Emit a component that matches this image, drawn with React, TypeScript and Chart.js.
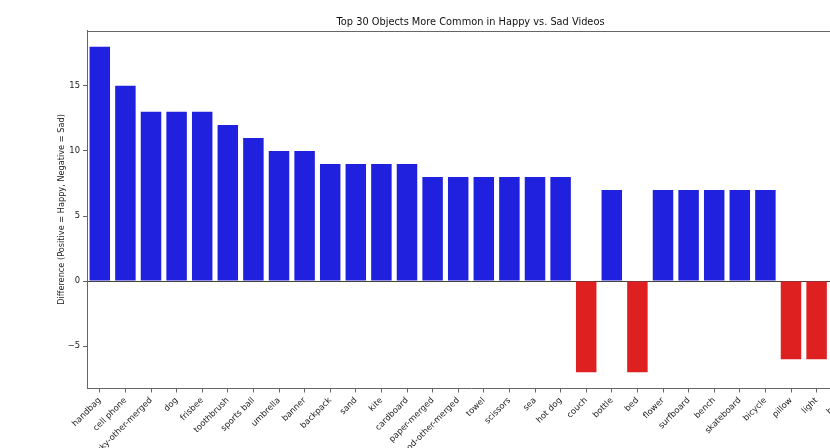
import React, { useEffect, useRef } from "react";
import { Chart, registerables } from "chart.js";

Chart.register(...registerables);

const categories = [
  "handbag", "cell phone", "sky-other-merged", "dog", "frisbee", "toothbrush",
  "sports ball", "umbrella", "banner", "backpack", "sand", "kite", "cardboard",
  "paper-merged", "food-other-merged", "towel", "scissors", "sea", "hot dog",
  "couch", "bottle", "bed", "flower", "surfboard", "bench", "skateboard",
  "bicycle", "pillow", "light", "bowl",
];
const differences = [
  18, 15, 13, 13, 13, 12, 11, 10, 10, 9, 9, 9, 9, 8, 8, 8, 8, 8, 8,
  -7, 7, -7, 7, 7, 7, 7, 7, -6, -6, -6,
];
const yTicks = [-5, 0, 5, 10, 15];
const titleText = "Top 30 Objects More Common in Happy vs. Sad Videos";

const BLUE = "#2020df";
const RED = "#df2020";
const AXIS = "#666";
const FONT = "'DejaVu Sans', sans-serif";

const framePlugin = {
  id: "frame",
  afterDraw(chart: any) {
    const { ctx, chartArea } = chart;
    ctx.save();
    ctx.strokeStyle = AXIS;
    ctx.lineWidth = 1;
    ctx.beginPath();
    ctx.moveTo(chartArea.left, Math.round(chartArea.top) + 0.5);
    ctx.lineTo(chartArea.right, Math.round(chartArea.top) + 0.5);
    ctx.stroke();
    ctx.fillStyle = "#111";
    ctx.font = `9.8px ${FONT}`;
    ctx.textAlign = "center";
    ctx.textBaseline = "middle";
    ctx.fillText(titleText, 470.5, 22);
    ctx.restore();
  },
};

export default function App() {
  const ref = useRef<HTMLCanvasElement>(null);
  useEffect(() => {
    if (!ref.current) return;
    const chart = new Chart(ref.current, {
      type: "bar",
      data: {
        labels: categories,
        datasets: [
          {
            data: differences,
            backgroundColor: differences.map((v) => (v >= 0 ? BLUE : RED)),
            borderWidth: 0,
            categoryPercentage: 0.8,
            barPercentage: 1,
          },
        ],
      },
      options: {
        responsive: false,
        animation: false,
        devicePixelRatio: 1,
        layout: { padding: { left: 0, right: 89, top: 30.5, bottom: 0 } },
        plugins: {
          legend: { display: false },
          tooltip: { enabled: false },
          title: { display: false },
        },
        scales: {
          x: {
            type: "category",
            offset: true,
            grid: {
              display: true,
              drawOnChartArea: false,
              tickLength: 4,
              tickColor: AXIS,
              offset: false,
            },
            border: { color: AXIS, width: 1 },
            ticks: {
              autoSkip: false,
              maxRotation: 45,
              minRotation: 45,
              padding: 3,
              color: "#222",
              font: { family: FONT, size: 8.4 },
            },
            afterFit(scale: any) {
              scale.height = 59.5;
            },
          },
          y: {
            type: "linear",
            min: -8.25,
            max: 19.25,
            grid: {
              drawOnChartArea: true,
              color: (c: any) => (c.tick && c.tick.value === 0 ? "#444" : "rgba(0,0,0,0)"),
              tickColor: AXIS,
              tickLength: 4,
            },
            border: { color: AXIS, width: 1 },
            afterBuildTicks(scale: any) {
              scale.ticks = yTicks.map((v) => ({ value: v }));
            },
            ticks: {
              padding: 3,
              color: "#222",
              font: { family: FONT, size: 8.4 },
              callback: (v: any) => (Number(v) < 0 ? "\u2212" + Math.abs(Number(v)) : String(v)),
            },
            title: {
              display: true,
              text: "Difference (Positive = Happy, Negative = Sad)",
              color: "#222",
              font: { family: FONT, size: 8.2 },
              padding: { top: 57, bottom: 0 },
            },
            afterFit(scale: any) {
              scale.width = 87;
            },
          },
        },
      },
      plugins: [framePlugin],
    });
    return () => chart.destroy();
  }, []);
  return (
    <div
      style={{
        position: "fixed",
        left: 0,
        top: 0,
        width: 830,
        height: 448,
        overflow: "hidden",
        background: "#fff",
      }}
    >
      <canvas ref={ref} width={944} height={448} style={{ width: 944, height: 448, display: "block" }} />
    </div>
  );
}
